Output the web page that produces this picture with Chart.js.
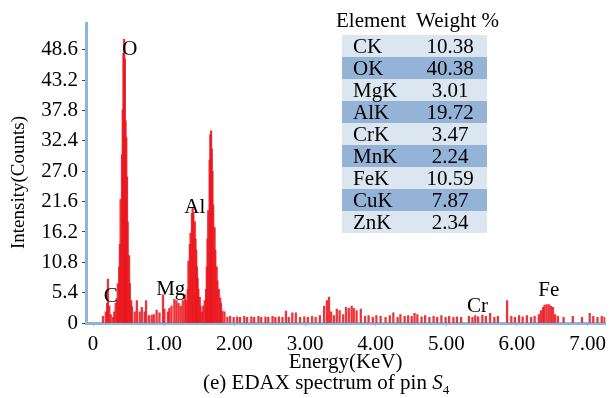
<!DOCTYPE html>
<html>
<head>
<meta charset="utf-8">
<script src="https://cdn.jsdelivr.net/npm/chart.js@4.4.1/dist/chart.umd.min.js"></script>
<style>
  body { margin: 0; background: #fff; }
  #wrap { position: relative; width: 612px; height: 398px; font-family: "Liberation Serif", "Times New Roman", Times, "DejaVu Serif", serif; color: #000; }
  #head { position: absolute; left: 336px; top: 8px; font-size: 21px; line-height: 24px; white-space: pre; }
  #tbl { position: absolute; left: 342px; top: 35px; border-collapse: collapse; font-size: 21px; }
  #tbl td { height: 22px; line-height: 22px; padding: 0; }
  #tbl td.el { width: 54px; padding-left: 11px; }
  #tbl td.wt { width: 74px; padding-left: 6px; text-align: center; }
  #tbl tr:nth-child(odd) { background: #dce6f1; }
  #tbl tr:nth-child(even) { background: #95b3d7; }
  #cap { position: absolute; left: 203px; top: 370px; font-size: 21px; line-height: 24px; white-space: nowrap; }
  #cap sub { font-size: 13px; }
</style>
</head>
<body>
<div id="wrap">
  <canvas id="c" width="612" height="398"></canvas>
  <div id="head">Element  Weight %</div>
  <table id="tbl"></table>
  <div id="cap">(e) EDAX spectrum of pin <i>S</i><sub>4</sub></div>
</div>
<script>
// spectrum: energy (keV) and counts
const energy = [
  0.14, 0.18, 0.20, 0.21, 0.23, 0.25, 0.28, 0.30, 0.32,
  0.34, 0.35, 0.37, 0.38, 0.39, 0.41, 0.42, 0.43, 0.44, 0.45, 0.46, 0.47, 0.48, 0.49, 0.51, 0.52, 0.54,
  0.55, 0.59, 0.62, 0.66, 0.69, 0.73, 0.75, 0.79, 0.83, 0.86, 0.90, 0.94, 0.99, 1.01, 1.06, 1.08, 1.11,
  1.15, 1.18, 1.21, 1.24, 1.27, 1.30,
  1.32, 1.34, 1.35, 1.37, 1.38, 1.40, 1.41, 1.42, 1.44, 1.45, 1.46, 1.47, 1.48, 1.49, 1.51, 1.52, 1.54, 1.56, 1.58,
  1.60, 1.61, 1.62, 1.63, 1.65, 1.66, 1.67, 1.68, 1.69, 1.70, 1.72, 1.73, 1.75, 1.76, 1.78, 1.80, 1.81, 1.83, 1.86,
  1.90, 1.94, 1.99, 2.04, 2.08, 2.14, 2.18, 2.24, 2.28, 2.34, 2.38, 2.44, 2.48, 2.54, 2.58, 2.63, 2.68,
  2.73, 2.77, 2.82, 2.87, 2.93, 2.99, 3.04, 3.10, 3.15, 3.21, 3.27, 3.31, 3.34, 3.37, 3.41, 3.45, 3.49,
  3.54, 3.58, 3.62, 3.66, 3.69, 3.73, 3.79, 3.85, 3.90, 3.96, 4.01, 4.07, 4.14, 4.20, 4.25, 4.31, 4.35,
  4.41, 4.46, 4.51, 4.55, 4.59, 4.65, 4.70, 4.76, 4.82, 4.87, 4.93, 4.99, 5.04, 5.10, 5.15, 5.21, 5.32,
  5.37, 5.41, 5.45, 5.51, 5.56, 5.62, 5.68, 5.73, 5.86, 5.92, 5.97, 6.03, 6.08, 6.14, 6.20, 6.25, 6.31,
  6.34, 6.37, 6.39, 6.42, 6.45, 6.48, 6.51, 6.54, 6.58, 6.66, 6.79, 6.92, 7.03, 7.08, 7.14, 7.20, 7.24
];
const counts = [
  1.2, 2, 3.5, 7.8, 3, 1.5, 1, 2, 3.5,
  4, 7, 10, 14, 22, 30, 38, 48, 50.5, 47, 36, 33, 26, 18, 12, 7, 4,
  2.9, 2, 4, 2, 2.8, 2, 4, 1.3, 1.4, 1.5, 2.3, 1.8, 5, 2.5, 2, 2.6, 3,
  4.2, 4, 3.5, 3, 4, 5,
  4, 6, 11, 14, 16, 19.5, 20.5, 19.5, 18, 15, 13, 10, 8, 6, 4.6, 3, 2, 3, 4,
  6, 10, 15, 20, 29, 33.5, 34.2, 31, 27, 21, 17, 13, 10, 7.5, 6, 4.5, 3.5, 2.1, 2,
  1, 1.2, 1, 1.1, 1, 1.2, 1, 1.1, 1, 1.2, 1, 1.1, 1, 1.2, 1, 1.1, 1,
  2.1, 1, 1.8, 1.8, 1, 1.1, 1, 1.2, 1, 1.3, 3, 4, 4.6, 2, 1.3, 2.5, 2.2,
  1.5, 2.8, 2.6, 3, 2.6, 2.2, 2.5, 1.2, 1.3, 1, 1.3, 1.2, 1, 1.3, 1.8, 1, 1.5,
  1.2, 1.3, 1.2, 1.7, 1.5, 1.1, 1.3, 1, 1.2, 1, 1.3, 1, 1.2, 1, 1.1, 1, 1.2,
  1, 1.3, 1.1, 1.4, 1.2, 1.7, 1, 1.2, 4, 1.2, 1, 1.3, 1.1, 1.3, 1, 1.2, 1.5,
  2.2, 2.8, 3.2, 3.3, 3.3, 3, 2.8, 1.5, 1.2, 1, 1.2, 1, 1.7, 1.2, 1, 1.2, 1
];

const xTicks = [0, 1, 2, 3, 4, 5, 6, 7];
const yTicks = [0, 5.4, 10.8, 16.2, 21.6, 27.0, 32.4, 37.8, 43.2, 48.6];

// peak labels placed in data units
const peakNames = ['C', 'O', 'Mg', 'Al', 'Cr', 'Fe'];
const peakEnergy = [0.25, 0.52, 1.10, 1.44, 5.44, 6.45];
const peakCount = [4.8, 48.6, 5.9, 20.6, 3.0, 5.7];

// composition table
const elements = ['CK', 'OK', 'MgK', 'AlK', 'CrK', 'MnK', 'FeK', 'CuK', 'ZnK'];
const weights = ['10.38', '40.38', '3.01', '19.72', '3.47', '2.24', '10.59', '7.87', '2.34'];

const tbl = document.getElementById('tbl');
elements.forEach((el, i) => {
  const tr = document.createElement('tr');
  tr.innerHTML = '<td class="el">' + el + '</td><td class="wt">' + weights[i] + '</td>';
  tbl.appendChild(tr);
});

const serif = '"Liberation Serif", "Times New Roman", Times, "DejaVu Serif", serif';
const font = { family: serif, size: 21 };

const peakLabelPlugin = {
  id: 'peakLabels',
  afterDatasetsDraw(chart) {
    const { ctx, scales: { x, y } } = chart;
    ctx.save();
    ctx.font = '21px ' + serif;
    ctx.fillStyle = '#000';
    ctx.textAlign = 'center';
    ctx.textBaseline = 'middle';
    peakNames.forEach((name, i) => {
      ctx.fillText(name, x.getPixelForValue(peakEnergy[i]), y.getPixelForValue(peakCount[i]));
    });
    ctx.restore();
  }
};

new Chart(document.getElementById('c'), {
  type: 'bar',
  data: {
    datasets: [{
      data: energy.map((e, i) => ({ x: e, y: counts[i] })),
      backgroundColor: 'rgba(234, 24, 32, 0.88)',
      borderWidth: 0,
      barThickness: 1.6,
    }]
  },
  options: {
    responsive: false,
    animation: false,
    layout: { padding: { top: 23, right: 0, left: 0, bottom: 0 } },
    plugins: { legend: { display: false }, tooltip: { enabled: false } },
    scales: {
      x: {
        type: 'linear',
        offset: false,
        min: -0.1,
        max: 7.25,
        afterBuildTicks: (s) => { s.ticks = xTicks.map(v => ({ value: v })); },
        afterFit: (s) => { s.height = 75; },
        ticks: {
          color: '#000',
          font: font,
          padding: 6,
          maxRotation: 0,
          callback: (v) => v === 0 ? '0' : v.toFixed(2),
        },
        grid: { drawOnChartArea: false, tickLength: 3, color: '#8db4d9', offset: false },
        border: { color: '#8db4d9', width: 3 },
        title: { display: true, text: 'Energy(KeV)', color: '#000', font: font, padding: { top: 0, bottom: 23 } },
      },
      y: {
        min: 0,
        max: 53.4,
        afterBuildTicks: (s) => { s.ticks = yTicks.map(v => ({ value: v })); },
        afterFit: (s) => { s.width = 86; },
        ticks: {
          color: '#000',
          font: font,
          padding: 4,
          callback: (v) => v === 0 ? '0' : v.toFixed(1),
        },
        grid: { drawOnChartArea: false, tickLength: 4, color: '#444' },
        border: { color: '#8db4d9', width: 3 },
        // trailing spaces nudge the centred title down a little, like the original
        title: { display: true, text: 'Intensity(Counts)    ', color: '#000', font: { family: serif, size: 19 }, padding: { top: 8, bottom: 0 } },
      }
    }
  },
  plugins: [peakLabelPlugin]
});
</script>
</body>
</html>
